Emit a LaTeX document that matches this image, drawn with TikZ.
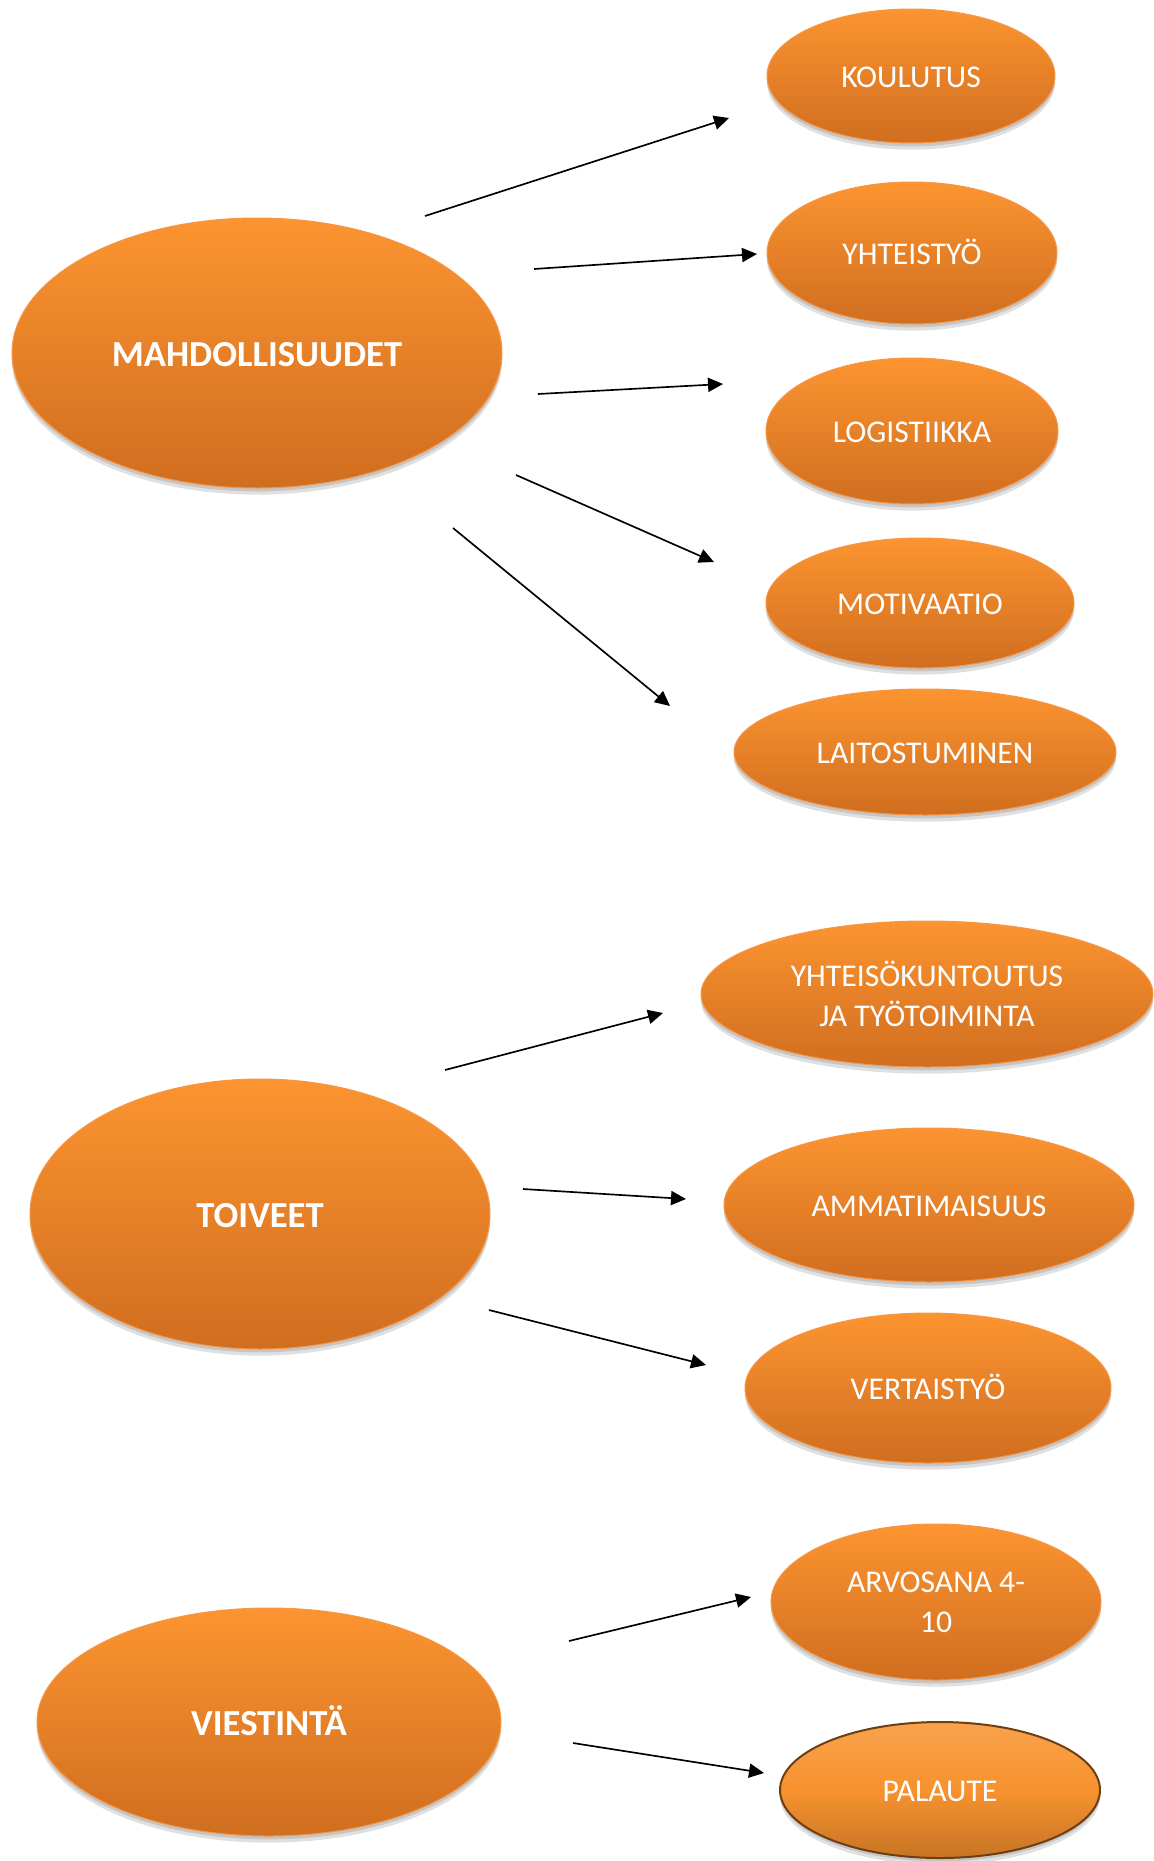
\documentclass[tikz,border=0pt]{standalone}
\usepackage{fontspec}
\setmainfont{Carlito}
\usetikzlibrary{shapes.geometric,arrows.meta,shadows}
\definecolor{otop}{RGB}{252,148,48}
\definecolor{obot}{RGB}{208,110,32}
\definecolor{oedge}{RGB}{247,150,70}
\definecolor{pedge}{RGB}{110,62,18}
\definecolor{pfill}{RGB}{247,146,46}
\tikzset{
  oval/.style 2 args={ellipse, inner sep=0pt, minimum width=#1*1.2pt, minimum height=#2*1.2pt,
    top color=otop, bottom color=obot, draw=oedge, line width=0.6pt, text=white, align=center,
    drop shadow={shadow xshift=0pt, shadow yshift=-4pt, opacity=0.12, fill=black},
    drop shadow={shadow xshift=0pt, shadow yshift=-2pt, opacity=0.12, fill=black}},
  smalltxt/.style={font=\fontsize{19}{24}\selectfont},
  oneline/.style={text height=14pt},
  bigtxt/.style={font=\fontsize{22}{26}\selectfont\bfseries, text height=16.5pt},
  palstyle/.style={draw=pedge, line width=1.2pt, top color=pfill!85!white, bottom color=pfill!80!black, middle color=pfill},
  conn/.style={-{Triangle[length=9pt,width=8.5pt]}, line width=1pt, black}
}
\begin{document}
\begin{tikzpicture}[x=0.6pt,y=-0.6pt]
\useasboundingbox (0,0) rectangle (1154,1861);
% main nodes
\node[oval={245}{135}, bigtxt] (mahd) at (257,353) {MAHDOLLISUUDET};
\node[oval={230}{135}, bigtxt] (toiv) at (260,1214) {TOIVEET};
\node[oval={232}{114}, bigtxt] (vies) at (269,1722) {VIESTINTÄ};
% targets
\node[oval={144}{67}, smalltxt, oneline] (koul) at (911,76) {KOULUTUS};
\node[oval={145}{71}, smalltxt, oneline] (yhte) at (912,253) {YHTEISTYÖ};
\node[oval={146}{73}, smalltxt, oneline] (logi) at (912,431) {LOGISTIIKKA};
\node[oval={154}{65}, smalltxt, oneline] (moti) at (920,603) {MOTIVAATIO};
\node[oval={191}{63}, smalltxt, oneline] (lait) at (925,752) {LAITOSTUMINEN};
\node[oval={226}{73}, smalltxt] (yhko) at (927,994) {YHTEISÖKUNTOUTUS\\JA TYÖTOIMINTA};
\node[oval={205}{77}, smalltxt, oneline] (amma) at (929,1205) {AMMATIMAISUUS};
\node[oval={183}{75}, smalltxt, oneline] (vert) at (928,1388) {VERTAISTYÖ};
\node[oval={165}{78}, smalltxt] (arvo) at (936,1602) {ARVOSANA 4-\\10};
\node[oval={160}{68}, smalltxt, oneline, palstyle] (pala) at (940,1790) {PALAUTE};
% connector end points
\coordinate (s1) at (425,216);  \coordinate (e1) at (729,118);
\coordinate (s2) at (534,269);  \coordinate (e2) at (757,254);
\coordinate (s3) at (538,394);  \coordinate (e3) at (723,384);
\coordinate (s4) at (516,475);  \coordinate (e4) at (714,562);
\coordinate (s5) at (453,528);  \coordinate (e5) at (670,706);
\coordinate (s6) at (445,1070); \coordinate (e6) at (663,1013);
\coordinate (s7) at (523,1189); \coordinate (e7) at (686,1199);
\coordinate (s8) at (489,1310); \coordinate (e8) at (706,1365);
\coordinate (s9) at (569,1641); \coordinate (e9) at (751,1597);
\coordinate (s10) at (573,1743); \coordinate (e10) at (764,1773);
\foreach \i in {1,...,10} { \draw[conn] (s\i) -- (e\i); }
\end{tikzpicture}
\end{document}
